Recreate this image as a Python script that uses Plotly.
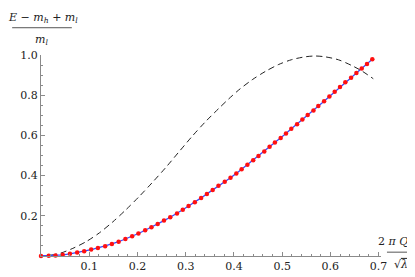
import plotly.graph_objects as go

# Red points (numerical) and blue curve
q_pts = [0, 0.016, 0.030, 0.045, 0.060, 0.075, 0.0895, 0.104, 0.118, 0.133, 0.147, 0.161,
         0.175, 0.189, 0.202, 0.216, 0.229, 0.242, 0.255, 0.268, 0.282, 0.294, 0.306, 0.319,
         0.332, 0.344, 0.356, 0.368, 0.381, 0.393, 0.405, 0.416, 0.428, 0.440, 0.451, 0.463,
         0.474, 0.485, 0.497, 0.508, 0.519, 0.531, 0.542, 0.553, 0.565, 0.575, 0.587, 0.598,
         0.609, 0.620, 0.631, 0.643, 0.654, 0.665, 0.676, 0.687]
e_pts = [0, 0.001, 0.003, 0.006, 0.011, 0.017, 0.024, 0.032, 0.040, 0.049, 0.060, 0.071,
         0.084, 0.098, 0.112, 0.128, 0.143, 0.159, 0.176, 0.193, 0.211, 0.230, 0.249, 0.268,
         0.289, 0.309, 0.328, 0.349, 0.370, 0.389, 0.411, 0.432, 0.454, 0.476, 0.498, 0.520,
         0.543, 0.565, 0.587, 0.609, 0.633, 0.655, 0.679, 0.701, 0.724, 0.746, 0.770, 0.793,
         0.817, 0.841, 0.865, 0.887, 0.910, 0.933, 0.955, 0.979]

# Dashed curve
q_dash = [0, 0.02, 0.039, 0.066, 0.094, 0.121, 0.149, 0.176, 0.204, 0.231, 0.259, 0.286,
          0.314, 0.341, 0.369, 0.389, 0.410, 0.438, 0.465, 0.493, 0.520, 0.548, 0.568,
          0.589, 0.617, 0.644, 0.665, 0.689]
e_dash = [0, 0.004, 0.013, 0.038, 0.072, 0.115, 0.170, 0.230, 0.297, 0.366, 0.441, 0.518,
          0.597, 0.668, 0.735, 0.781, 0.826, 0.877, 0.918, 0.953, 0.977, 0.991, 0.995,
          0.991, 0.976, 0.948, 0.921, 0.882]

x_ticks = [0.1, 0.2, 0.3, 0.4, 0.5, 0.6, 0.7]
x_tick_text = ["0.1", "0.2", "0.3", "0.4", "0.5", "0.6", "0.7"]
y_ticks = [0.2, 0.4, 0.6, 0.8, 1.0]
y_tick_text = ["0.2", "0.4", "0.6", "0.8", "1.0"]

FONT = "DejaVu Serif"
FS = 11
AX = "#8a8a8a"
TXT = "#222222"

fig = go.Figure()
fig.add_trace(go.Scatter(x=q_dash, y=e_dash, mode="lines",
                         line=dict(color="#222222", width=1, dash="6px,4px", shape="spline", smoothing=0.8),
                         cliponaxis=False, hoverinfo="skip"))
fig.add_trace(go.Scatter(x=q_pts, y=e_pts, mode="lines", line=dict(color="#3a4cff", width=1.3),
                         cliponaxis=False, hoverinfo="skip"))
fig.add_trace(go.Scatter(x=q_pts, y=e_pts, mode="markers",
                         marker=dict(color="#ff1010", size=4.5, line=dict(width=0)),
                         cliponaxis=False, hoverinfo="skip"))

L, R, T, B = 31, 42, 47, 20
W, H = 415, 277
pw, ph = W - L - R, H - T - B

def px(xp):
    return (xp - L) / pw

def py(yp):
    return (H - B - yp) / ph

fig.update_layout(
    width=W, height=H, autosize=False,
    margin=dict(l=L, r=R, t=T, b=B, pad=0),
    paper_bgcolor="white", plot_bgcolor="white",
    showlegend=False,
    font=dict(family=FONT, size=FS, color=TXT),
    xaxis=dict(range=[0, 0.705], showgrid=False, zeroline=False, showline=True, linecolor=AX, linewidth=1,
               tickmode="array", tickvals=x_ticks, ticktext=x_tick_text, ticks="inside", ticklen=4,
               tickcolor=AX, tickwidth=1, tickfont=dict(family=FONT, size=FS, color=TXT),
               minor=dict(ticks="inside", ticklen=2, dtick=0.02, tick0=0, tickcolor=AX, showgrid=False)),
    yaxis=dict(range=[0, 1.0], showgrid=False, zeroline=False, showline=True, linecolor=AX, linewidth=1,
               tickmode="array", tickvals=y_ticks, ticktext=y_tick_text, ticks="inside", ticklen=4,
               tickcolor=AX, tickwidth=1, tickfont=dict(family=FONT, size=FS, color=TXT),
               minor=dict(ticks="inside", ticklen=2, dtick=0.05, tick0=0, tickcolor=AX, showgrid=False)),
)

ann = [
    ("<i>E</i> − <i>m</i><sub><i>h</i></sub> + <i>m</i><sub><i>l</i></sub>", 33, 8, "center"),
    ("<i>m</i><sub><i>l</i></sub>", 31, 31, "center"),
    ("2 <i>π</i> <i>Q</i>", 402, 242, "right"),
    ("√<i>λ</i>", 393, 266, "center"),
]
for text, xp, yp, anc in ann:
    fig.add_annotation(text=text, x=px(xp), y=py(yp), xref="paper", yref="paper",
                       xanchor=anc, yanchor="middle", showarrow=False,
                       font=dict(family=FONT, size=FS, color=TXT))

for x0, x1, yp, c in [(2, 62, 18.5, "#555555"), (379, 411, 253, "#555555"), (393, 401, 259.5, TXT)]:
    fig.add_shape(type="line", xref="paper", yref="paper", x0=px(x0), x1=px(x1), y0=py(yp), y1=py(yp),
                  line=dict(color=c, width=1))

fig.write_html("out.html")
